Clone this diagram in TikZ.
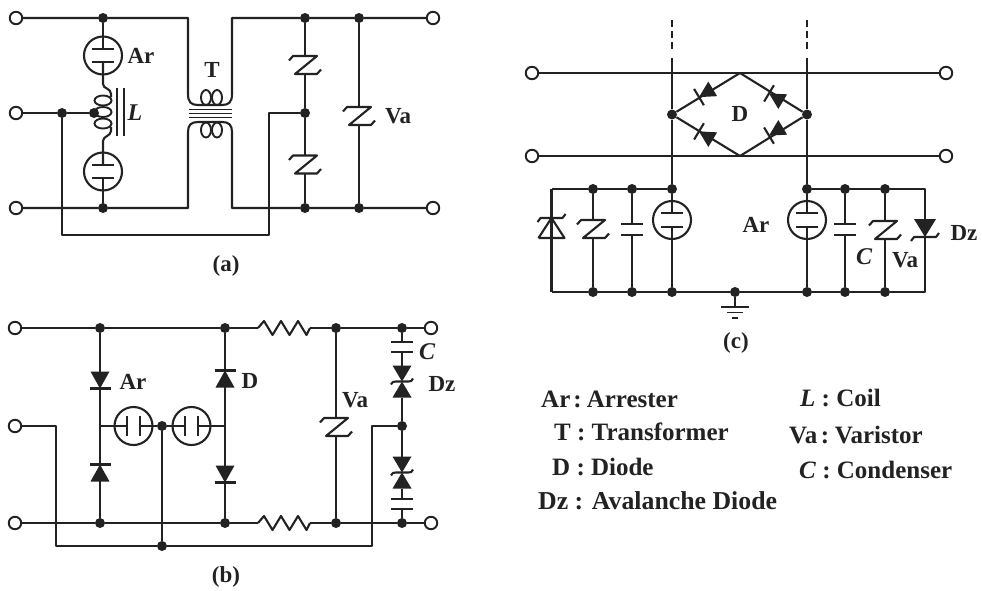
\documentclass[tikz,border=0pt]{standalone}
\usepackage{fontspec}
\setmainfont{Liberation Serif}
\definecolor{ink}{HTML}{222222}
\tikzset{
  wire/.style={draw=ink,line width=2.1pt,line join=round},
  thin wire/.style={draw=ink,line width=1.9pt},
  term/.style={circle,draw=ink,line width=1.9pt,fill=white,minimum size=12.5pt,inner sep=0pt},
  jdot/.style={circle,fill=ink,draw=none,minimum size=10pt,inner sep=0pt},
  comp/.style={rectangle,draw=none,inner sep=0pt,outer sep=0pt},
  gapc/.style={circle,draw=ink,line width=2.1pt,minimum size=38pt,inner sep=0pt},
  lab/.style={text=ink,font=\fontsize{23}{25}\selectfont\bfseries,inner sep=0pt},
  ilab/.style={text=ink,font=\fontsize{24}{25}\selectfont\bfseries\itshape,inner sep=0pt},
  leg/.style={text=ink,font=\fontsize{25}{27}\selectfont\bfseries,inner sep=0pt,anchor=west},
}
% varistor: name x y
\newcommand\Var[3]{\node[comp,minimum width=28pt,minimum height=18pt] (#1) at (#2,#3) {};
 \draw[wire,shift={(#2,#3)}] (-16,-4.5) -- (-12,-9) -- (12,-9) -- (-10,9) -- (12,9) -- (16,4.5);}
% arrester with horizontal plates
\newcommand\ArrV[3]{\node[gapc] (#1c) at (#2,#3) {};
 \node[comp,minimum width=22pt,minimum height=13.5pt] (#1) at (#2,#3) {};
 \draw[wire] (#1.north west) -- (#1.north east) (#1.south west) -- (#1.south east);}
% arrester with vertical plates
\newcommand\ArrH[3]{\node[gapc] (#1c) at (#2,#3) {};
 \node[comp,minimum width=13.5pt,minimum height=20pt] (#1) at (#2,#3) {};
 \draw[wire] (#1.north west) -- (#1.south west) (#1.north east) -- (#1.south east);}
% capacitor
\newcommand\Cap[4]{\node[comp,minimum width=22pt,minimum height=#4pt] (#1) at (#2,#3) {};
 \draw[wire] (#1.north west) -- (#1.north east) (#1.south west) -- (#1.south east);}
% diode: name x y rotation; tip points down at rotation 0
\newcommand\Dio[4]{\node[comp,minimum width=20pt,minimum height=17pt] (#1) at (#2,#3) {};
 \fill[ink,shift={(#2,#3)},rotate=#4] (-9.5,-8.5) -- (9.5,-8.5) -- (0,8.5) -- cycle;
 \draw[wire,shift={(#2,#3)},rotate=#4] (-10.5,8.5) -- (10.5,8.5);}
% small diode of the bridge
\newcommand\Brd[4]{\node[comp,minimum width=16pt,minimum height=18pt] (#1) at (#2,#3) {};
 \fill[ink,shift={(#2,#3)},rotate=#4] (-8.5,-9) -- (8.5,-9) -- (0,7) -- cycle;
 \draw[wire,shift={(#2,#3)},rotate=#4] (-9.5,7) -- (9.5,7);}
% double avalanche diode
\newcommand\DZ[3]{\node[comp,minimum width=20pt,minimum height=32pt] (#1) at (#2,#3) {};
 \fill[ink,shift={(#2,#3)}] (-9.5,-16) -- (9.5,-16) -- (0,0) -- cycle (-9.5,16) -- (9.5,16) -- (0,0) -- cycle;
 \draw[wire,shift={(#2,#3)}] (-11,3) .. controls (-9,0) .. (-6,0) -- (6,0) .. controls (9,0) .. (11,-3);}
\begin{document}
\begin{tikzpicture}[x=1pt,y=-1pt]
\useasboundingbox (0,0) rectangle (982,590);
%%%%% (a)
\node[term] (at1) at (16,18) {};
\node[term] (at2) at (16,113) {};
\node[term] (at3) at (16,208) {};
\node[term] (at4) at (433,18) {};
\node[term] (at5) at (433,208) {};
\node[jdot] (aj1) at (103,18) {};
\node[jdot] (aj2) at (103,208) {};
\node[jdot] (aj3) at (62,113) {};
\node[jdot] (aj4) at (94,113) {};
\node[jdot] (aj5) at (305,18) {};
\node[jdot] (aj6) at (359,18) {};
\node[jdot] (aj7) at (305,113) {};
\node[jdot] (aj8) at (305,208) {};
\node[jdot] (aj9) at (359,208) {};
\ArrV{aA}{103}{55.5}
\ArrV{aB}{103}{171.5}
\Var{aV}{305}{65}
\Var{aW}{305}{164.5}
\Var{aX}{359}{116}
\coordinate (ac1) at (188,18);
\coordinate (ac2) at (232,18);
\coordinate (ac3) at (188,208);
\coordinate (ac4) at (232,208);
\coordinate (ac5) at (62,235);
\coordinate (ac6) at (269,235);
\coordinate (ac7) at (269,113);
\draw[wire] (at1) -- (aj1) -- (ac1) -- (188,94) .. controls (188,102) and (191,105) .. (198,105) -- (222,105) .. controls (229,105) and (232,102) .. (232,94) -- (ac2) -- (aj5) -- (aj6) -- (at4);
\draw[wire] (at3) -- (aj2) -- (ac3) -- (188,132) .. controls (188,125) and (191,122) .. (198,122) -- (222,122) .. controls (229,122) and (232,125) .. (232,132) -- (ac4) -- (aj8) -- (aj9) -- (at5);
\draw[wire] (at2) -- (aj3) -- (aj4);
\draw[wire] (aj3) -- (ac5) -- (ac6) -- (ac7) -- (aj7);
\draw[wire] (aj1) -- (aA.north);
\draw[wire] (aB.south) -- (aj2);
\draw[wire] (aA.south) -- (103,84) .. controls (103,89) and (111,88) .. (111,94) -- (111,97);
\draw[wire] (aB.north) -- (103,141) .. controls (103,136) and (111,136) .. (111,131) -- (111,127);
\draw[thin wire] (103,100.5) ellipse [x radius=8.5,y radius=5];
\draw[thin wire] (103,112) ellipse [x radius=8.5,y radius=5];
\draw[thin wire] (103,123.5) ellipse [x radius=8.5,y radius=5];
\draw[thin wire] (117,88) -- (117,136) (124,88) -- (124,136);
\draw[thin wire] (206,97.5) ellipse [x radius=5,y radius=7.5];
\draw[thin wire] (217,97.5) ellipse [x radius=5,y radius=7.5];
\draw[thin wire] (206,130) ellipse [x radius=5,y radius=7.5];
\draw[thin wire] (217,130) ellipse [x radius=5,y radius=7.5];
\draw[thin wire] (189,109.5) -- (232,109.5) (189,113.5) -- (232,113.5) (189,117.5) -- (232,117.5);
\draw[wire] (aj5) -- (aV.north) (aV.south) -- (aj7) -- (aW.north) (aW.south) -- (aj8);
\draw[wire] (aj6) -- (aX.north) (aX.south) -- (aj9);
\node[lab] (laAr) at (141,56) {Ar};
\node[lab] (laT) at (212,70) {T};
\node[ilab] (laL) at (135,113) {L};
\node[lab] (laVa) at (398,116) {Va};
\node[lab] (laa) at (226,266) {(a)};
%%%%% (b)
\node[term] (bt1) at (15,328) {};
\node[term] (bt2) at (15,426) {};
\node[term] (bt3) at (15,523) {};
\node[term] (bt4) at (431,328) {};
\node[term] (bt5) at (431,523) {};
\node[jdot] (bj1) at (100,328) {};
\node[jdot] (bj2) at (225,328) {};
\node[jdot] (bj3) at (336,328) {};
\node[jdot] (bj4) at (402,328) {};
\node[jdot] (bj5) at (100,523) {};
\node[jdot] (bj6) at (225,523) {};
\node[jdot] (bj7) at (336,523) {};
\node[jdot] (bj8) at (402,523) {};
\node[jdot] (bj9) at (162,426) {};
\node[jdot] (bj10) at (162,546) {};
\node[jdot] (bj11) at (402,426) {};
\coordinate (bm1) at (100,426);
\coordinate (bm2) at (225,426);
\coordinate (bc1) at (56,426);
\coordinate (bc2) at (56,546);
\coordinate (bc3) at (372,546);
\coordinate (bc4) at (372,426);
\Dio{bD1}{100}{380}{0}
\Dio{bD2}{100}{473}{180}
\Dio{bD3}{225}{379}{180}
\Dio{bD4}{225}{474}{0}
\ArrH{bA}{133.5}{426}
\ArrH{bB}{191.5}{426}
\Var{bV}{336}{427}
\Cap{bC1}{402}{347}{10}
\Cap{bC2}{402}{504}{10}
\DZ{bZ1}{402}{381.5}
\DZ{bZ2}{402}{472.5}
\node[comp,minimum width=52pt,minimum height=12pt] (bR1) at (284,328) {};
\node[comp,minimum width=52pt,minimum height=12pt] (bR2) at (284,523) {};
\foreach \n in {bR1,bR2}{
 \draw[wire] (\n.west) -- ++(6,-7) -- ++(8.5,14) -- ++(8.5,-14) -- ++(8.5,14) -- ++(8.5,-14) -- ++(8.5,14) -- (\n.east);
}
\draw[wire] (bt1) -- (bj1) -- (bj2) -- (bR1.west) (bR1.east) -- (bj3) -- (bj4) -- (bt4);
\draw[wire] (bt3) -- (bj5) -- (bj6) -- (bR2.west) (bR2.east) -- (bj7) -- (bj8) -- (bt5);
\draw[wire] (bt2) -- (bc1) -- (bc2) -- (bj10) -- (bc3) -- (bc4) -- (bj11);
\draw[wire] (bj1) -- (bD1.north) (bD1.south) -- (bm1) -- (bD2.south) (bD2.north) -- (bj5);
\draw[wire] (bj2) -- (bD3.south) (bD3.north) -- (bm2) -- (bD4.north) (bD4.south) -- (bj6);
\draw[wire] (bm1) -- (bA.west) (bA.east) -- (bj9) -- (bB.west) (bB.east) -- (bm2);
\draw[wire] (bj9) -- (bj10);
\draw[wire] (bj3) -- (bV.north) (bV.south) -- (bj7);
\draw[wire] (bj4) -- (bC1.north) (bC1.south) -- (bZ1.north) (bZ1.south) -- (bj11) -- (bZ2.north) (bZ2.south) -- (bC2.north) (bC2.south) -- (bj8);
\node[lab] (lbAr) at (133,382) {Ar};
\node[lab] (lbD) at (250,381) {D};
\node[lab] (lbVa) at (355,400) {Va};
\node[ilab] (lbC) at (427,352) {C};
\node[lab] (lbDz) at (442,384) {Dz};
\node[lab] (lbb) at (226,577) {(b)};
%%%%% (c)
\node[term] (ct1) at (532,73) {};
\node[term] (ct2) at (532,156) {};
\node[term] (ct3) at (946,73) {};
\node[term] (ct4) at (946,156) {};
\draw[wire] (ct1) -- (ct3);
\draw[wire] (ct2) -- (ct4);
\coordinate (cd1) at (672,20);
\coordinate (cd2) at (672,53);
\coordinate (cs1) at (672,58);
\coordinate (cd3) at (807,20);
\coordinate (cd4) at (807,53);
\coordinate (cs2) at (807,58);
\coordinate (cT) at (740,73);
\coordinate (cB) at (740,156);
\node[jdot] (cj1) at (672,114.5) {};
\node[jdot] (cj2) at (807,114.5) {};
\node[jdot] (cj3) at (672,189) {};
\node[jdot] (cj4) at (807,189) {};
\node[jdot] (cj5) at (593,189) {};
\node[jdot] (cj6) at (632,189) {};
\node[jdot] (cj7) at (845,189) {};
\node[jdot] (cj8) at (885,189) {};
\node[jdot] (cj9) at (593,292) {};
\node[jdot] (cj10) at (632,292) {};
\node[jdot] (cj11) at (672,292) {};
\node[jdot] (cj12) at (735,292) {};
\node[jdot] (cj13) at (807,292) {};
\node[jdot] (cj14) at (845,292) {};
\node[jdot] (cj15) at (885,292) {};
\coordinate (cc1) at (551.5,189);
\coordinate (cc2) at (551.5,292);
\coordinate (cc3) at (925,189);
\coordinate (cc4) at (925,292);
\coordinate (cg) at (735,307);
\draw[wire,dash pattern=on 6.5pt off 4.5pt] (cd1) -- (cd2);
\draw[wire,dash pattern=on 6.5pt off 4.5pt] (cd3) -- (cd4);
\draw[wire] (cs1) -- (cj1) -- (cj3);
\draw[wire] (cs2) -- (cj2) -- (cj4);
\draw[wire] (cj1) -- (cT) -- (cj2) -- (cB) -- (cj1);
\Brd{cDa}{705}{93.5}{-59}
\Brd{cDb}{705}{135}{-121}
\Brd{cDc}{775}{97}{-121}
\Brd{cDd}{775}{132}{-59}
\node[lab] (lcD) at (740,114) {D};
\ArrV{cA}{672}{220}
\ArrV{cB2}{807}{220}
\Var{cV1}{593}{229}
\Var{cV2}{885}{230}
\Cap{cC1}{632}{229.5}{11}
\Cap{cC2}{845}{229.5}{11}
\node[comp,minimum width=26pt,minimum height=20pt] (cZ1) at (551.5,228) {};
\draw[wire] (cZ1.north) ++(-14,4) -- ++(3,-4) -- ++(22,0) -- ++(3,-4);
\draw[wire] (cZ1.south west) -- (cZ1.south east) -- (cZ1.north) -- (cZ1.south west);
\node[comp,minimum width=22pt,minimum height=18pt] (cZ2) at (925,228) {};
\fill[ink] (cZ2.north west) -- (cZ2.north east) -- (cZ2.south) -- cycle;
\draw[wire] (cZ2.south) ++(-14,4) -- ++(3,-4) -- ++(22,0) -- ++(3,-4);
\draw[wire] (cc1) -- (cj5) -- (cj6) -- (cj3);
\draw[wire] (cj4) -- (cj7) -- (cj8) -- (cc3) -- (cZ2.north);
\draw[wire] (cZ2.south) -- (cc4) -- (cj15);
\draw[wire] (cc1) -- (cZ1.north);
\draw[wire] (cZ1.north) -- (cZ1.south) -- (cc2);
\draw[wire] (cc2) -- (cj9) -- (cj10) -- (cj11) -- (cj12) -- (cj13) -- (cj14) -- (cj15);
\draw[wire] (cj5) -- (cV1.north) (cV1.south) -- (cj9);
\draw[wire] (cj6) -- (cC1.north) (cC1.south) -- (cj10);
\draw[wire] (cj3) -- (cA.north) (cA.south) -- (cj11);
\draw[wire] (cj4) -- (cB2.north) (cB2.south) -- (cj13);
\draw[wire] (cj7) -- (cC2.north) (cC2.south) -- (cj14);
\draw[wire] (cj8) -- (cV2.north) (cV2.south) -- (cj15);
\draw[wire] (cj12) -- (cg);
\draw[thin wire] (721,307) -- (749,307) (727,312.5) -- (743,312.5) (732,318) -- (738,318);
\node[lab] (lcAr) at (756,225) {Ar};
\node[lab] (lcDz) at (964,233) {Dz};
\node[ilab] (lcC) at (864,257) {C};
\node[lab] (lcVa) at (905,260) {Va};
\node[lab] (lcc) at (736,343) {(c)};
%%%%% legend
\node[leg] (k1) at (541,399) {\spaceskip=3pt\relax Ar : Arrester};
\node[leg] (k2) at (554,432) {T : Transformer};
\node[leg] (k3) at (552,467) {D : Diode};
\node[leg] (k4) at (538,501) {\fontsize{25.8}{27}\selectfont Dz : Avalanche Diode};
\node[leg] (k5) at (800,398) {\textit{L} : Coil};
\node[leg] (k6) at (789,435) {\spaceskip=3.5pt\relax Va : Varistor};
\node[leg] (k7) at (799,470) {\textit{C} : Condenser};
\end{tikzpicture}
\end{document}
